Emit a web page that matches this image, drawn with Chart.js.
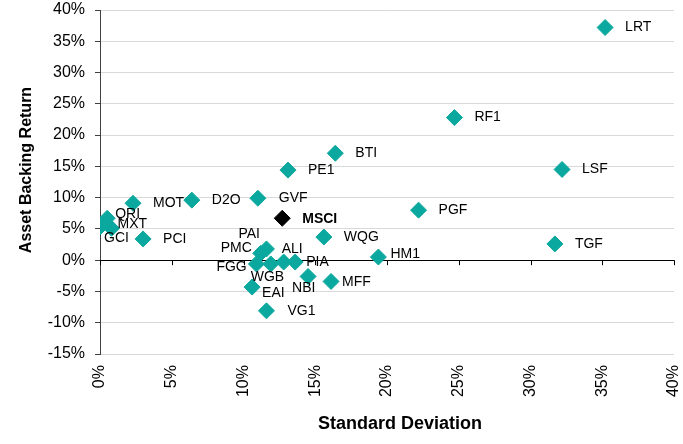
<!DOCTYPE html>
<html>
<head>
<meta charset="utf-8">
<script src="https://cdn.jsdelivr.net/npm/chart.js@4.4.1/dist/chart.umd.min.js"></script>
<style>
  html, body { margin: 0; padding: 0; background: #fff; }
  #wrap { width: 683px; height: 444px; position: relative; }
</style>
</head>
<body>
<div id="wrap"><canvas id="chartRiesgo"></canvas></div>
<script>
/* DATOS */
const fondos = ['LRT', 'RF1', 'LSF', 'PGF', 'TGF', 'HM1', 'BTI', 'PE1', 'GVF', 'MSCI',
  'WQG', 'MOT', 'D2O', 'QRI', 'MXT', 'GCI', 'PCI', 'PAI', 'PMC', 'ALI',
  'FGG', 'WGB', 'PIA', 'NBI', 'MFF', 'EAI', 'VG1'];
const desviacion = [35.2, 24.7, 32.2, 22.2, 31.7, 19.4, 16.4, 13.1, 11.0, 12.7,
  15.6, 2.3, 6.4, 0.5, 0.8, 0.0, 3.0, 11.6, 11.2, 12.8,
  10.9, 11.9, 13.6, 14.5, 16.1, 10.6, 11.6];
const rentabilidad = [37.2, 22.8, 14.5, 8.0, 2.6, 0.5, 17.1, 14.4, 9.9, 6.7,
  3.7, 9.1, 9.6, 6.7, 5.1, 5.3, 3.4, 1.8, 1.1, -0.3,
  -0.6, -0.6, -0.3, -2.6, -3.4, -4.3, -8.1];
const ticksX = [0, 5, 10, 15, 20, 25, 30, 35, 40];
const ticksY = [-15, -10, -5, 0, 5, 10, 15, 20, 25, 30, 35, 40];

// desplazamiento de cada etiqueta respecto al punto [dx borde izq, dy centro]
const posEtiquetas = [[20,0],[20,0],[20,0],[20,0],[20,0],[12,-3],[20,0],[20,0],[21,0],[20,1],
  [20,0],[20,0],[20,0],[8,-4],[6,-4],[4,11],[20,0],[-28,-15],[-40,-5],[-2,-13],
  [-40,3],[-20,13],[11,0],[-16,12],[11,1],[10,6],[21,0]];

const TEAL = '#0aa89e';
const FUENTE = '"Liberation Sans", Arial, sans-serif';

/* PLUGIN: etiquetas, eje en cero y titulos */
const extras = {
  id: 'extras',
  afterDatasetsDraw(chart) {
    const ctx = chart.ctx;
    const sx = chart.scales.x, sy = chart.scales.y;
    const y0 = sy.getPixelForValue(0);
    ctx.save();
    // marcas del eje x sobre la linea de cero
    ctx.strokeStyle = '#000';
    ctx.lineWidth = 1;
    ticksX.forEach(v => {
      const px = Math.round(sx.getPixelForValue(v)) + 0.5;
      ctx.beginPath();
      ctx.moveTo(px, y0);
      ctx.lineTo(px, y0 + 5);
      ctx.stroke();
    });
    // etiquetas de los puntos
    const pts = chart.getDatasetMeta(0).data;
    ctx.textAlign = 'left';
    ctx.textBaseline = 'middle';
    pts.forEach((p, i) => {
      const off = posEtiquetas[i];
      ctx.fillStyle = '#000';
      ctx.font = (fondos[i] === 'MSCI' ? 'bold ' : '') + '14px ' + FUENTE;
      ctx.fillText(fondos[i], p.x + off[0], p.y + off[1]);
    });
    // titulos de ejes
    ctx.textAlign = 'center';
    ctx.font = 'bold 18px ' + FUENTE;
    ctx.fillText('Standard Deviation', 400, 424);
    ctx.font = 'bold 16px ' + FUENTE;
    ctx.translate(27, 170);
    ctx.rotate(-Math.PI / 2);
    ctx.fillText('Asset Backing Return', 0, 0);
    ctx.restore();
  }
};

function renderChart() {
  const ctx = document.getElementById('chartRiesgo').getContext('2d');
  const puntos = desviacion.map((d, i) => ({ x: d, y: rentabilidad[i] }));

  window.chartRiesgo = new Chart(ctx, {
    type: 'scatter',
    data: {
      datasets: [{
        data: puntos,
        pointStyle: 'rectRot',
        pointRadius: 8,
        pointHoverRadius: 8,
        pointBackgroundColor: fondos.map(f => f === 'MSCI' ? '#000' : TEAL),
        pointBorderColor: fondos.map(f => f === 'MSCI' ? '#000' : TEAL),
        pointBorderWidth: 1,
      }],
    },
    options: {
      responsive: true,
      maintainAspectRatio: false,
      animation: false,
      layout: { padding: { top: 10, right: 0, left: 0, bottom: 0 } },
      plugins: {
        legend: { display: false },
        tooltip: { enabled: false },
      },
      scales: {
        x: {
          type: 'linear',
          min: 0,
          max: 40,
          afterBuildTicks: s => { s.ticks = ticksX.map(v => ({ value: v })); },
          afterFit: s => { s.height = 90; s.paddingLeft = 0; s.paddingRight = 5; },
          grid: { display: false },
          border: { display: false },
          ticks: {
            color: '#000',
            font: { size: 16, family: FUENTE },
            minRotation: 90,
            maxRotation: 90,
            padding: 3,
            callback: v => v + '%',
          },
        },
        y: {
          type: 'linear',
          min: -15,
          max: 40,
          afterBuildTicks: s => { s.ticks = ticksY.map(v => ({ value: v })); },
          afterFit: s => { s.width = 100; s.paddingTop = 0; s.paddingBottom = 0; },
          grid: {
            color: c => (c.tick && c.tick.value === 0) ? '#000' : '#d9d9d9',
            tickColor: '#404040',
            tickLength: 5,
          },
          border: { color: '#404040' },
          ticks: {
            color: '#000',
            font: { size: 16, family: FUENTE },
            padding: 10,
            callback: v => v + '%',
          },
        },
      },
    },
    plugins: [extras],
  });
}

/* INIT */
renderChart();
</script>
</body>
</html>
